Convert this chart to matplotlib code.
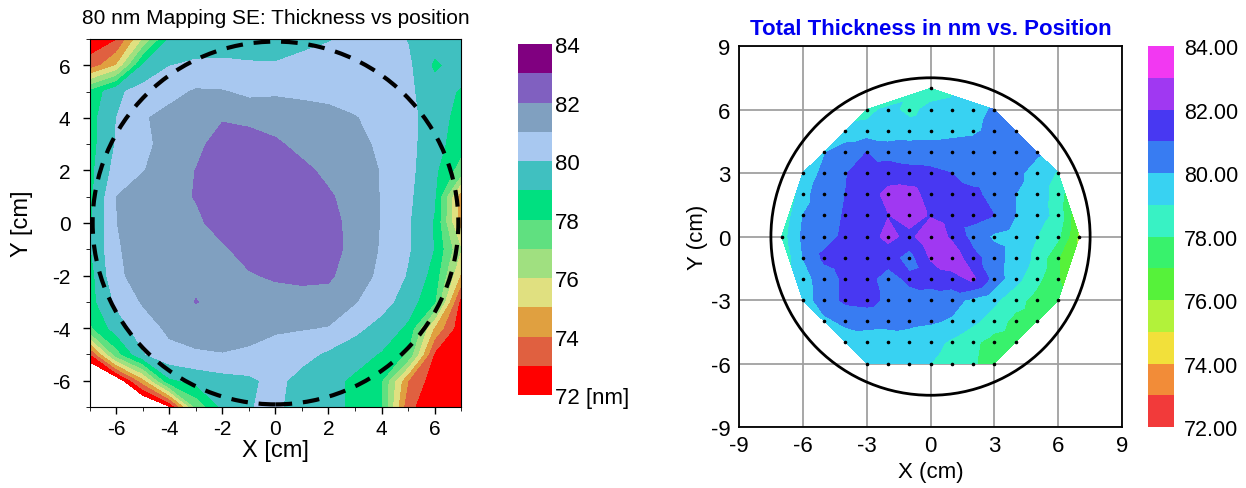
import numpy as np
import matplotlib
matplotlib.use("Agg")
import matplotlib.pyplot as plt
from matplotlib.patches import Circle

plt.rcParams['font.family'] = ['Liberation Sans', 'DejaVu Sans']
plt.rcParams['axes.unicode_minus'] = False

# ---- left map: 1 cm grid, x and y from -7 to 7 (rows from y=7 down to y=-7)
left_x = np.arange(-7, 8)
left_y = np.arange(7, -8, -1)
left_z = [
    [72.5, 72.9, 76.0, 79.1, 79.5, 79.6, 79.5, 79.6, 79.7, 79.9, 80.3, 80.4, 79.95, 79.5, 79.3],
    [73.3, 75.0, 79.1, 79.97, 80.15, 80.15, 80.1, 80.06, 80.3, 80.6, 80.7, 80.6, 80.2, 78.8, 79.4],
    [78.2, 79.8, 80.4, 80.7, 81.1, 81.05, 80.8, 80.9, 80.8, 80.7, 80.5, 80.4, 80.2, 79.4, 78.9],
    [78.6, 80.0, 80.9, 81.3, 81.6, 81.9, 81.6, 81.4, 81.4, 81.3, 81.05, 80.6, 80.3, 79.5, 78.6],
    [78.6, 80.1, 80.8, 81.3, 81.7, 82.5, 82.7, 82.2, 81.6, 81.5, 81.3, 80.8, 80.3, 79.4, 78.4],
    [78.7, 80.4, 80.95, 81.5, 82.02, 82.8, 82.9, 82.7, 82.3, 81.7, 81.4, 80.95, 80.3, 79.2, 77.5],
    [78.7, 81.0, 81.5, 81.7, 82.05, 82.8, 82.9, 82.8, 82.6, 82.15, 81.5, 80.95, 80.2, 79.1, 74.3],
    [78.8, 80.98, 81.5, 81.7, 81.8, 82.4, 82.8, 82.9, 82.8, 82.4, 81.6, 80.95, 80.1, 78.9, 74.5],
    [78.9, 80.9, 81.4, 81.6, 81.8, 81.85, 82.4, 82.7, 82.7, 82.45, 81.6, 80.9, 80.1, 78.95, 76.0],
    [78.6, 80.8, 81.4, 81.6, 81.7, 81.7, 81.9, 82.15, 82.3, 82.2, 81.3, 80.85, 79.9, 78.6, 74.8],
    [78.6, 80.2, 81.1, 81.5, 82.04, 81.6, 81.6, 81.5, 81.5, 81.5, 81.05, 80.4, 79.5, 78.1, 72.5],
    [77.8, 79.5, 80.5, 81.2, 81.5, 81.5, 81.4, 81.15, 81.05, 80.95, 80.25, 79.6, 78.8, 74.8, 72.3],
    [72.8, 77.5, 79.9, 80.7, 80.85, 80.95, 80.8, 80.5, 80.35, 79.8, 79.4, 78.9, 77.8, 72.8, 72.3],
    [70.0, 71.0, 74.5, 78.8, 79.3, 79.6, 79.8, 80.3, 79.6, 79.3, 78.8, 78.0, 74.0, 72.4, 72.3],
    [68.0, 69.0, 70.0, 71.8, 77.2, 79.2, 79.95, 80.2, 79.5, 79.3, 78.8, 78.0, 73.2, 72.4, 72.2],
]
left_colors = ['#ff0000', '#e06040', '#e0a040', '#e0e080', '#a0e080', '#60e080',
               '#00e080', '#40c0c0', '#a8c8f0', '#80a0c0', '#8060c0', '#800080']

# ---- right map: measured points on a 1 cm grid, one row per y (first x, values)
right_rows = {
    7: (0, [78.4]),
    6: (-3, [78.6, 79.3, 78.7, 79.3, 79.5, 79.7, 80.1]),
    5: (-4, [79.3, 79.4, 79.3, 79.5, 79.6, 79.7, 79.8, 80.3, 80.4]),
    4: (-5, [79.9, 80.5, 81.0, 80.6, 80.5, 80.5, 80.5, 80.6, 80.5, 80.4, 80.2]),
    3: (-6, [79.2, 80.3, 80.95, 81.4, 81.5, 81.3, 81.2, 81.0, 80.6, 80.5, 80.3, 79.5, 78.9]),
    2: (-6, [79.7, 80.5, 81.0, 81.5, 82.3, 82.4, 81.6, 81.4, 81.2, 80.7, 80.0, 79.5, 78.6]),
    1: (-6, [80.0, 80.5, 81.1, 81.5, 81.95, 82.5, 81.9, 81.5, 81.3, 81.0, 80.0, 79.4, 78.7]),
    0: (-7, [78.5, 80.2, 80.6, 81.2, 81.5, 82.3, 81.7, 82.8, 81.8, 80.6, 79.8, 79.5, 79.0, 78.2, 75.8]),
    -1: (-6, [80.0, 81.2, 81.5, 81.3, 81.4, 80.6, 82.1, 82.7, 81.3, 80.5, 79.5, 78.8, 77.1]),
    -2: (-6, [79.6, 80.5, 81.2, 81.3, 80.6, 81.2, 81.4, 81.6, 82.2, 80.6, 79.3, 78.3, 77.05]),
    -3: (-6, [79.5, 80.5, 81.2, 81.3, 80.8, 80.6, 80.5, 80.3, 79.8, 79.2, 78.4, 77.6, 77.3]),
    -4: (-5, [79.8, 80.2, 80.4, 80.3, 80.2, 80.1, 79.9, 79.2, 78.5, 77.7, 77.4]),
    -5: (-4, [79.5, 79.4, 79.5, 79.6, 79.4, 78.8, 78.2, 77.6, 77.4]),
    -6: (-3, [79.4, 79.5, 79.4, 79.0, 78.5, 78.1, 77.6]),
}
right_colors = ['#f23a3a', '#f28c38', '#f2e03a', '#b2f23a', '#56f23a', '#38f26c',
                '#38f2c4', '#38d2f2', '#387cf2', '#4838f2', '#a038f2', '#f238f2']

levels = np.arange(72, 85, 1)
cbar_ticks = np.arange(72, 85, 2)

fig = plt.figure(figsize=(12.46, 4.89), dpi=100)

# left panel
ax1 = fig.add_axes([0.0722, 0.1656, 0.2978, 0.7527])
X, Y = np.meshgrid(left_x, left_y)
cs1 = ax1.contourf(X, Y, np.array(left_z), levels=levels, colors=left_colors)
ax1.add_patch(Circle((0, 0), 6.9, fill=False, ec='black', lw=3, ls=(0, (4, 2.6)), zorder=3))
ax1.set_xlim(-7, 7)
ax1.set_ylim(-7, 7)
ax1.set_xticks(np.arange(-6, 7, 2))
ax1.set_yticks(np.arange(-6, 7, 2))
ax1.set_xticks(np.arange(-7, 8, 1), minor=True)
ax1.set_yticks(np.arange(-7, 8, 1), minor=True)
ax1.tick_params(labelsize=15, length=5, width=1)
ax1.tick_params(axis='y', pad=9)
ax1.tick_params(which='minor', length=3)
ax1.set_xlabel('X [cm]', fontsize=17, labelpad=1)
ax1.set_ylabel('Y [cm]', fontsize=17, labelpad=14)
fig.text(0.066, 0.962, '80 nm Mapping SE: Thickness vs position', fontsize=15,
         ha='left', va='center')

cax1 = fig.add_axes([0.4157, 0.19, 0.0273, 0.718])
cb1 = fig.colorbar(cs1, cax=cax1, ticks=cbar_ticks)
cb1.outline.set_visible(False)
cb1.ax.tick_params(length=0, labelsize=16, pad=2)
cb1.ax.set_yticklabels(['72 [nm]'] + [str(t) for t in cbar_ticks[1:]])

# right panel
px, py, pz = [], [], []
for yy, (x0, vals) in right_rows.items():
    for i, v in enumerate(vals):
        px.append(x0 + i)
        py.append(yy)
        pz.append(v)
px = np.array(px, float)
py = np.array(py, float)
pz = np.array(pz)

ax2 = fig.add_axes([0.5931, 0.1247, 0.3074, 0.7791])
ax2.set_axisbelow(True)
ax2.grid(True, color='#a0a0a0', lw=1.3)
cs2 = ax2.tricontourf(px, py, pz, levels=levels, colors=right_colors, zorder=1)
ax2.scatter(px, py, s=2.5, c='black', zorder=4)
ax2.add_patch(Circle((0, 0), 7.5, fill=False, ec='black', lw=2, zorder=3))
ax2.set_xlim(-9, 9)
ax2.set_ylim(-9, 9)
ax2.set_xticks(np.arange(-9, 10, 3))
ax2.set_yticks(np.arange(-9, 10, 3))
ax2.tick_params(length=0, labelsize=16, pad=6)
for s in ax2.spines.values():
    s.set_linewidth(1.3)
ax2.set_xlabel('X (cm)', fontsize=16, labelpad=3)
ax2.set_ylabel('Y (cm)', fontsize=16, labelpad=2)
ax2.set_title('Total Thickness in nm vs. Position', fontsize=16, fontweight='bold',
              color='#0000f0', pad=9)

cax2 = fig.add_axes([0.9213, 0.1247, 0.0209, 0.7791])
cb2 = fig.colorbar(cs2, cax=cax2, ticks=cbar_ticks)
cb2.outline.set_visible(False)
cb2.ax.tick_params(length=0, labelsize=15.5, pad=7)
cb2.ax.set_yticklabels(['%.2f' % t for t in cbar_ticks])

fig.savefig('out.png', dpi=100)
